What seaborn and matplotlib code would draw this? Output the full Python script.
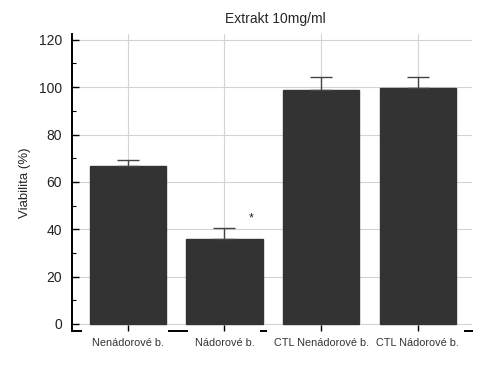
import matplotlib
matplotlib.use("Agg")
import matplotlib.pyplot as plt
import seaborn as sns
import pandas as pd
from matplotlib.ticker import MultipleLocator

# data
categories = ["Nenádorové b.", "Nádorové b.", "CTL Nenádorové b.", "CTL Nádorové b."]
viability = [66.8, 35.9, 98.9, 99.7]
err_upper = [2.6, 4.7, 5.2, 4.7]
significant = [False, True, False, False]

df = pd.DataFrame({"group": categories, "viability": viability})

sns.set_theme(style="white")
plt.rcParams["font.family"] = ["Liberation Sans", "DejaVu Sans"]

fig = plt.figure(figsize=(4.92, 3.70), dpi=100)
ax = fig.add_axes([0.146, 0.1054, 0.813, 0.803])

sns.barplot(data=df, x="group", y="viability", color="#333333",
            saturation=1, width=0.79, edgecolor="#333333", ax=ax,
            errorbar=None)

# grid behind the bars (seaborn switches the x grid off, so set it after)
ax.set_axisbelow(True)
ax.xaxis.grid(True, color="#d4d4d4", linewidth=0.8)
ax.yaxis.grid(True, color="#d4d4d4", linewidth=0.8)

# upper-only error bars
xs = range(len(categories))
ax.errorbar(xs, viability, yerr=[[0] * len(err_upper), err_upper],
            fmt="none", ecolor="#444444", elinewidth=1.0, capsize=8,
            capthick=1.0, zorder=3)

for i, flag in enumerate(significant):
    if flag:
        ax.text(i + 0.28, viability[i] + err_upper[i] + 1.5, "*",
                fontsize=9, ha="center", va="bottom", color="#222222",
                bbox=dict(facecolor="white", edgecolor="none", pad=1.5))

ax.set_xlim(-0.58, 3.56)
ax.set_ylim(-3, 122.5)
ax.yaxis.set_major_locator(MultipleLocator(20))
ax.yaxis.set_minor_locator(MultipleLocator(10))

ax.tick_params(axis="y", which="major", direction="in", length=5, width=1,
               labelsize=10, pad=7, left=True, colors="black")
ax.tick_params(axis="y", which="minor", direction="in", length=3, width=0.8,
               left=True, color="black")
ax.tick_params(axis="x", direction="in", length=4, width=1, labelsize=7.8,
               pad=5, bottom=True, color="black")
for lbl in ax.get_yticklabels():
    lbl.set_color("#222222")
for lbl in ax.get_xticklabels():
    lbl.set_color("#333333")

for side in ["top", "right", "bottom"]:
    ax.spines[side].set_visible(False)
ax.spines["left"].set_color("black")
ax.spines["left"].set_linewidth(1.4)

# broken bottom axis segments as in the original
for x0, x1 in [(-0.58, -0.47), (0.42, 0.62), (1.37, 1.44), (3.48, 3.57)]:
    ax.plot([x0, x1], [-3, -3], color="black", linewidth=1.4,
            clip_on=False, solid_capstyle="butt")

ax.set_xlabel("")
ax.set_ylabel("Viabilita (%)", fontsize=9.5, labelpad=6)
fig.text(0.56, 0.95, "Extrakt 10mg/ml", fontsize=10, ha="center", va="center")

fig.savefig("out.png", dpi=100)
